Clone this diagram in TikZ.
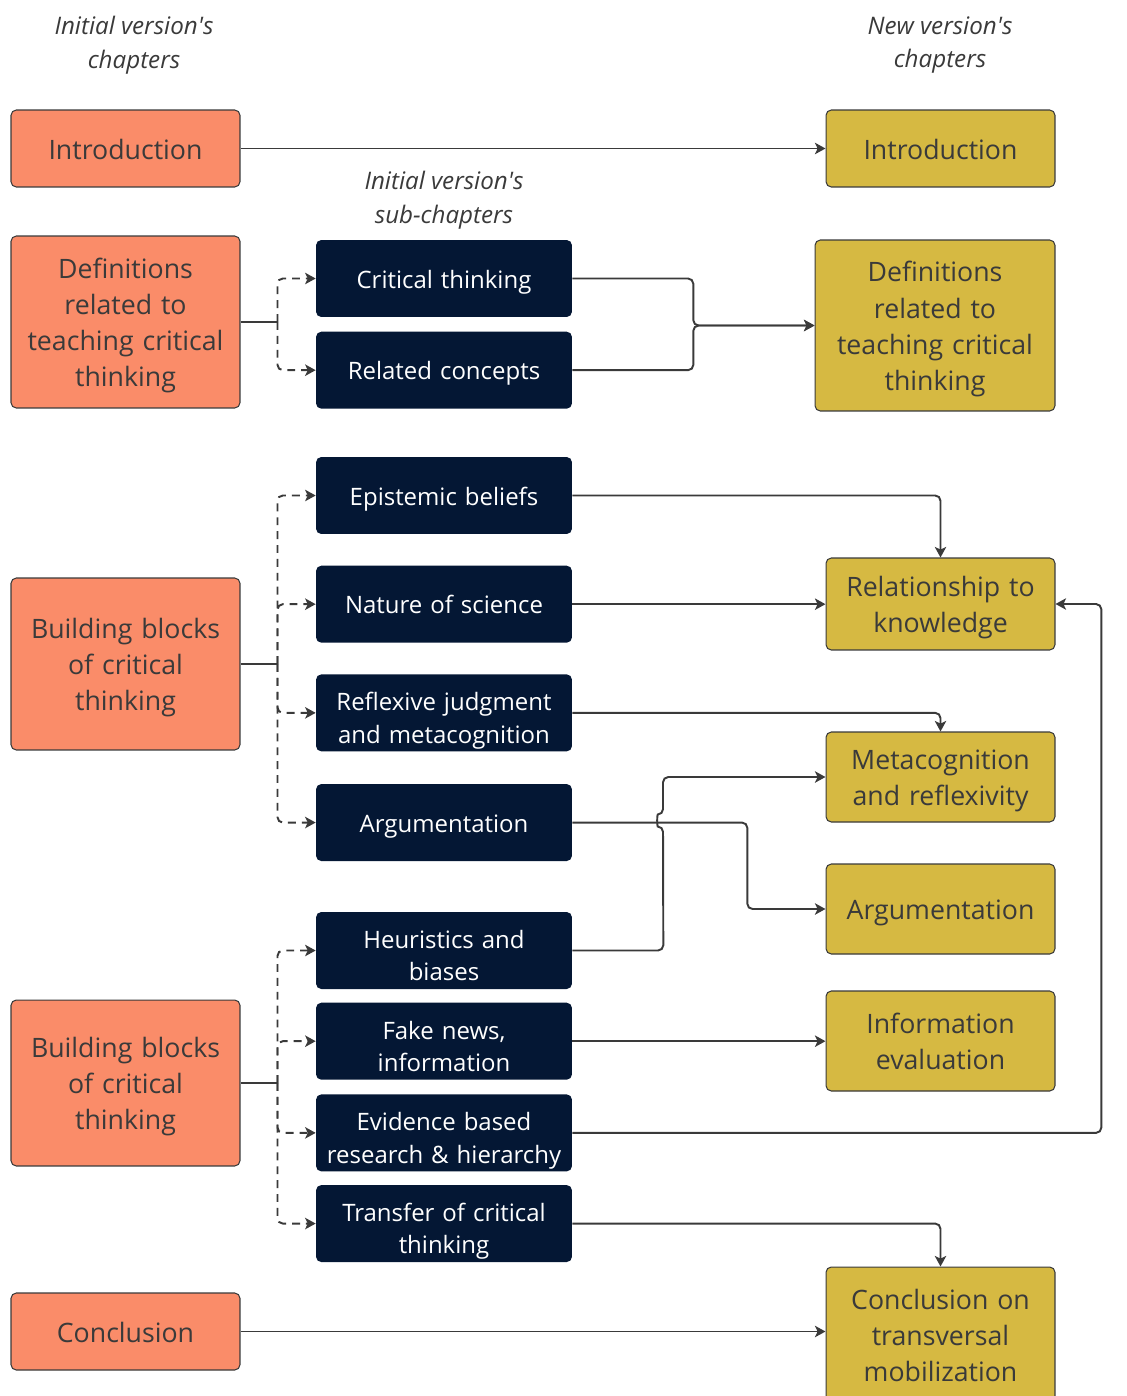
\documentclass[tikz,border=0pt]{standalone}
\usepackage{fontspec}
\setmainfont{Open Sans}
\usepackage{tikz}
\definecolor{ChapterOrange}{RGB}{250,140,105}
\definecolor{ChapterGold}{RGB}{214,185,66}
\definecolor{SubNavy}{RGB}{4,23,52}
\definecolor{InkGray}{RGB}{58,58,58}
\newcommand{\Ap}{\textquotesingle}
\newcommand{\LineStrut}{\rule[-0.25em]{0pt}{1.3em}}
\usetikzlibrary{
	positioning,
	calc,
	arrows.meta
}

\begin{document}
\begin{tikzpicture}[
		x=0.02cm, y=-0.02cm,
		chapbox/.style={rounded corners=3pt, inner sep=0pt, align=center, minimum height=1.54cm,
			execute at begin node=\LineStrut, execute at end node=\LineStrut},
		oldchap/.style={chapbox, draw=InkGray, line width=0.6pt, fill=ChapterOrange, text=InkGray, minimum width=4.58cm, text width=4.4cm, font=\fontsize{15.2}{20.6}\selectfont},
		newchap/.style={chapbox, draw=InkGray, line width=0.6pt, fill=ChapterGold, text=InkGray, minimum width=4.58cm, text width=4.4cm, font=\fontsize{15.2}{20.6}\selectfont},
		subchap/.style={chapbox, fill=SubNavy, text=white, minimum width=5.12cm, text width=4.95cm, font=\fontsize{13.65}{18.4}\selectfont},
		subtwo/.style={subchap, execute at begin node={\rule[-0.25em]{0pt}{\dimexpr1.3em+5pt\relax}}},
		header/.style={align=center, text=InkGray, font=\itshape\fontsize{13.75}{19.3}\selectfont},
		link/.style={draw=InkGray, line width=1.1pt, rounded corners=3pt, -{Stealth[length=6pt,width=6.5pt,inset=1.5pt]}},
		stublink/.style={link, -},
		sublink/.style={link, dash pattern=on 4.5pt off 3.4pt}
	]
		\useasboundingbox (0,0) rectangle (1126,1396);

		\node[header] (hdrOld) at (134,45) {Initial version\Ap s\\chapters};
		\node[header] (hdrNew) at (940,45) {New version\Ap s\\chapters};
		\node[header] (hdrSub) at (444,200) {Initial version\Ap s\\sub-chapters};

		\node[oldchap] (oIntro) at (125.5,148.5) {Introduction};
		\node[oldchap, minimum height=3.44cm] (oDefs) at (125.5,322) {Definitions\\related to\\teaching critical\\thinking};
		\node[oldchap, minimum height=3.44cm] (oBlocksA) at (125.5,664) {Building blocks\\of critical\\thinking};
		\node[oldchap, minimum height=3.32cm] (oBlocksB) at (125.5,1083) {Building blocks\\of critical\\thinking};
		\node[oldchap] (oConcl) at (125.5,1331.5) {Conclusion};

		\node[subchap] (sCritical) at (444,278.5) {Critical thinking};
		\node[subchap, below=0.28cm of sCritical] (sRelated) {Related concepts};
		\node[subchap] (sEpistemic) at (444,495.5) {Epistemic beliefs};
		\node[subchap, below=0.62cm of sEpistemic] (sNature) {Nature of science};
		\node[subtwo, below=0.62cm of sNature] (sReflexive) {Reflexive judgment\\and metacognition};
		\node[subchap, below=0.64cm of sReflexive] (sArgument) {Argumentation};
		\node[subtwo] (sHeuristics) at (444,950.5) {Heuristics and\\biases};
		\node[subtwo, below=0.26cm of sHeuristics] (sFake) {Fake news,\\information};
		\node[subtwo, below=0.28cm of sFake] (sEvidence) {Evidence based\\research \& hierarchy};
		\node[subtwo, below=0.26cm of sEvidence] (sTransfer) {Transfer of critical\\thinking};

		\node[newchap] (nIntro) at (940.5,148.5) {Introduction};
		\node[newchap, minimum width=4.8cm, minimum height=3.42cm] (nDefs) at (935,325.5) {Definitions\\related to\\teaching critical\\thinking};
		\node[newchap, minimum height=1.84cm] (nRelation) at (940.5,604) {Relationship to\\knowledge};
		\node[newchap, minimum height=1.8cm] (nMeta) at (940.5,777) {Metacognition\\and reflexivity};
		\node[newchap, minimum height=1.8cm] (nArgument) at (940.5,909) {Argumentation};
		\node[newchap, minimum height=2cm] (nInfo) at (940.5,1041) {Information\\evaluation};
		\node[newchap, minimum height=2.72cm] (nConcl) at (940.5,1335) {Conclusion on\\transversal\\mobilization};

		% dashed split into sub-chapters
		\coordinate (busDefs) at ($(oDefs.east)+(37,0)$);
		\coordinate (busA) at ($(oBlocksA.east)+(37,0)$);
		\coordinate (busB) at ($(oBlocksB.east)+(37,0)$);
		\draw[stublink] (oDefs.east) -- (busDefs);
		\draw[stublink] (oBlocksA.east) -- (busA);
		\draw[stublink] (oBlocksB.east) -- (busB);
		\draw[sublink] (busDefs) |- (sCritical.west);
		\draw[sublink] (busDefs) |- (sRelated.west);
		\draw[sublink] (busA) |- (sEpistemic.west);
		\draw[sublink] (busA) |- (sNature.west);
		\draw[sublink] (busA) |- (sReflexive.west);
		\draw[sublink] (busA) |- (sArgument.west);
		\draw[sublink] (busB) |- (sHeuristics.west);
		\draw[sublink] (busB) |- (sFake.west);
		\draw[sublink] (busB) |- (sEvidence.west);
		\draw[sublink] (busB) |- (sTransfer.west);

		% links to the new chapters
		\draw[link] (oIntro) -- (nIntro);
		\draw[link] (sCritical.east) -- ++(121,0) |- (nDefs.west);
		\draw[link] (sRelated.east) -- ++(121,0) |- (nDefs.west);
		\draw[link] (sEpistemic.east) -| (nRelation.north);
		\draw[link] (sNature.east) -- (sNature.east -| nRelation.west);
		\draw[link] (sReflexive.east) -| (nMeta.north);
		\draw[link] (sArgument.east) -- ++(175,0) |- (nArgument.west);
		\draw[link] (sHeuristics.east) -- ++(91,0) -- (663,826.5) .. controls (657,826.5) and (657,814.5) .. (663,814.5) |- (nMeta.west);
		\draw[link] (sFake.east) -- (sFake.east -| nInfo.west);
		\draw[link] (sEvidence.east) -- ++(529,0) |- (nRelation.east);
		\draw[link] (sTransfer.east) -| (nConcl.north);
		\draw[link] (oConcl.east) -- (oConcl.east -| nConcl.west);
	\end{tikzpicture}
\end{document}
